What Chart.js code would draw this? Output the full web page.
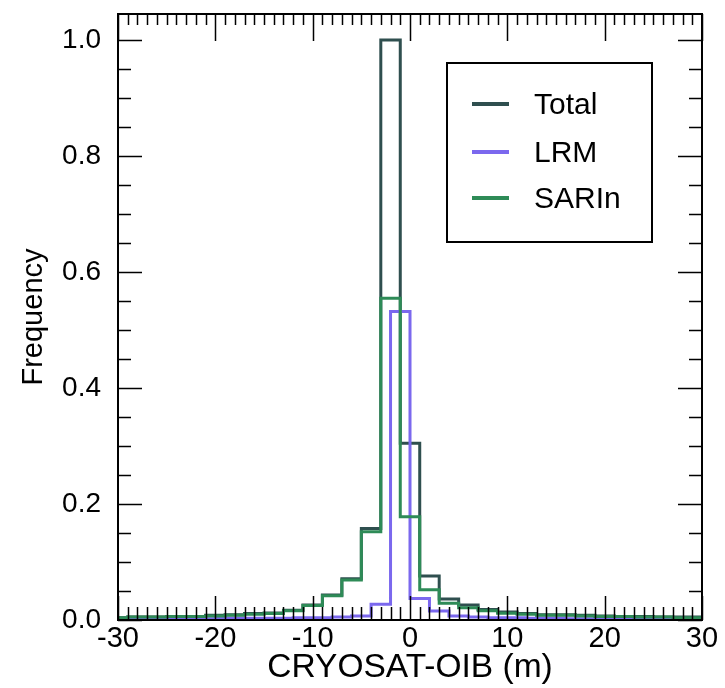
<!DOCTYPE html>
<html>
<head>
<meta charset="utf-8">
<script src="https://cdn.jsdelivr.net/npm/chart.js@4/dist/chart.umd.min.js"></script>
<style>
  html, body { margin: 0; padding: 0; background: #fff; }
  #wrap { width: 725px; height: 688px; }
</style>
</head>
<body>
<div id="wrap"><canvas id="c" width="725" height="688"></canvas></div>
<script>
// ---- data (histograms, bin width 2 m) ----
// Total and SARIn bins: centred on even values (edges at odd values)
const evenCenters = [-30,-28,-26,-24,-22,-20,-18,-16,-14,-12,-10,-8,-6,-4,-2,0,2,4,6,8,10,12,14,16,18,20,22,24,26,28,30];
const totalFreq   = [0.004,0.005,0.005,0.006,0.006,0.008,0.009,0.011,0.012,0.017,0.026,0.043,0.071,0.158,1.0,0.305,0.076,0.036,0.026,0.018,0.014,0.011,0.009,0.009,0.008,0.007,0.006,0.006,0.005,0.005,0.005];
const sarinFreq   = [0.004,0.005,0.005,0.006,0.006,0.007,0.008,0.010,0.011,0.016,0.025,0.042,0.069,0.152,0.555,0.178,0.052,0.029,0.021,0.016,0.0115,0.010,0.008,0.008,0.007,0.006,0.006,0.005,0.005,0.004,0.004];
// LRM bins: centred on odd values (edges at even values)
const oddCenters  = [-29,-27,-25,-23,-21,-19,-17,-15,-13,-11,-9,-7,-5,-3,-1,1,3,5,7,9,11,13,15,17,19,21,23,25,27,29];
const lrmFreq     = [0.001,0.001,0.001,0.001,0.002,0.003,0.003,0.003,0.003,0.004,0.004,0.005,0.007,0.027,0.532,0.037,0.0155,0.007,0.005,0.004,0.004,0.003,0.003,0.002,0.002,0.001,0.001,0.001,0.001,0.001];
const binWidth = 2;
const xTickLabels = [-30,-20,-10,0,10,20,30];
const yTickLabels = [0.0,0.2,0.4,0.6,0.8,1.0];
const seriesNames = ['Total','LRM','SARIn'];
const seriesColors = ['#2F4F4F','#7B68EE','#2E8B57'];

// build step points (left edges, plus closing right edge)
function stepPoints(centers, values) {
  const pts = centers.map((c, i) => ({x: c - binWidth / 2, y: values[i]}));
  const last = centers.length - 1;
  pts.push({x: centers[last] + binWidth / 2, y: values[last]});
  return pts;
}

const FONT = '"Liberation Sans", Arial, Helvetica, sans-serif';

const ticksPlugin = {
  id: 'insideTicks',
  afterDatasetsDraw(chart) {
    const ctx = chart.ctx;
    const xs = chart.scales.x, ys = chart.scales.y;
    const a = chart.chartArea;
    ctx.save();
    ctx.strokeStyle = '#000';
    ctx.lineWidth = 1.5;
    ctx.beginPath();
    // x ticks: minor each 1, major each 10
    for (let v = -30; v <= 30; v += 1) {
      const px = Math.round(xs.getPixelForValue(v)) + 0.5;
      const major = v % 10 === 0;
      const lb = major ? 24 : 13;
      const lt = major ? 27 : 11;
      ctx.moveTo(px, a.bottom); ctx.lineTo(px, a.bottom - lb);
      ctx.moveTo(px, a.top); ctx.lineTo(px, a.top + lt);
    }
    // y ticks: minor each 0.05, major each 0.2
    for (let k = 0; k <= 20; k++) {
      const v = k * 0.05;
      const py = Math.round(ys.getPixelForValue(v)) + 0.5;
      const major = k % 4 === 0;
      const l = major ? 24 : 13;
      ctx.moveTo(a.left, py); ctx.lineTo(a.left + l, py);
      ctx.moveTo(a.right, py); ctx.lineTo(a.right - l, py);
    }
    ctx.stroke();
    // frame
    ctx.lineWidth = 2;
    ctx.strokeRect(a.left, a.top, a.right - a.left, a.bottom - a.top);
    ctx.restore();

    // legend
    ctx.save();
    const bx = 447, by = 63, bw = 205, bh = 179;
    ctx.fillStyle = '#fff';
    ctx.fillRect(bx, by, bw, bh);
    ctx.strokeStyle = '#000';
    ctx.lineWidth = 2;
    ctx.strokeRect(bx, by, bw, bh);
    ctx.font = '30px ' + FONT;
    ctx.textBaseline = 'middle';
    ctx.textAlign = 'left';
    const rows = [104, 152, 198];
    seriesNames.forEach((n, i) => {
      ctx.strokeStyle = seriesColors[i];
      ctx.lineWidth = 4;
      ctx.beginPath();
      ctx.moveTo(bx + 25, rows[i]); ctx.lineTo(bx + 62, rows[i]);
      ctx.stroke();
      ctx.fillStyle = '#000';
      ctx.fillText(n, bx + 87, rows[i] + 2);
    });
    ctx.restore();
  }
};

new Chart(document.getElementById('c'), {
  type: 'line',
  data: {
    datasets: [
      {label: seriesNames[2], data: stepPoints(evenCenters, sarinFreq), borderColor: seriesColors[2], borderWidth: 3, stepped: 'before', pointRadius: 0, fill: false},
      {label: seriesNames[1], data: stepPoints(oddCenters, lrmFreq), borderColor: seriesColors[1], borderWidth: 3, stepped: 'before', pointRadius: 0, fill: false},
      {label: seriesNames[0], data: stepPoints(evenCenters, totalFreq), borderColor: seriesColors[0], borderWidth: 3, stepped: 'before', pointRadius: 0, fill: false}
    ]
  },
  options: {
    responsive: false,
    animation: false,
    events: [],
    layout: {padding: {top: 14, right: 23, left: 0, bottom: 0}},
    plugins: {legend: {display: false}, tooltip: {enabled: false}},
    scales: {
      x: {
        type: 'linear', min: -30, max: 30,
        afterBuildTicks(s) { s.ticks = xTickLabels.map(v => ({value: v})); },
        afterFit(s) { s.height = 68; s.paddingLeft = 0; s.paddingRight = 0; },
        grid: {display: false, drawTicks: false},
        border: {display: false},
        ticks: {color: '#000', font: {family: FONT, size: 29}, padding: 2, maxRotation: 0, autoSkip: false,
                callback: v => String(v)},
        title: {display: true, text: 'CRYOSAT-OIB (m)', color: '#000', font: {family: FONT, size: 33.5}, padding: {top: 0, bottom: 0}}
      },
      y: {
        type: 'linear', min: 0, max: 1.045,
        afterBuildTicks(s) { s.ticks = yTickLabels.map(v => ({value: v})); },
        afterFit(s) { s.width = 118; s.paddingTop = 0; s.paddingBottom = 0; },
        grid: {display: false, drawTicks: false},
        border: {display: false},
        ticks: {color: '#000', font: {family: FONT, size: 28}, padding: 17,
                callback: v => Number(v).toFixed(1)},
        title: {display: true, text: 'Frequency', color: '#000', font: {family: FONT, size: 29}, padding: {top: 17, bottom: 0}}
      }
    }
  },
  plugins: [ticksPlugin]
});
</script>
</body>
</html>
